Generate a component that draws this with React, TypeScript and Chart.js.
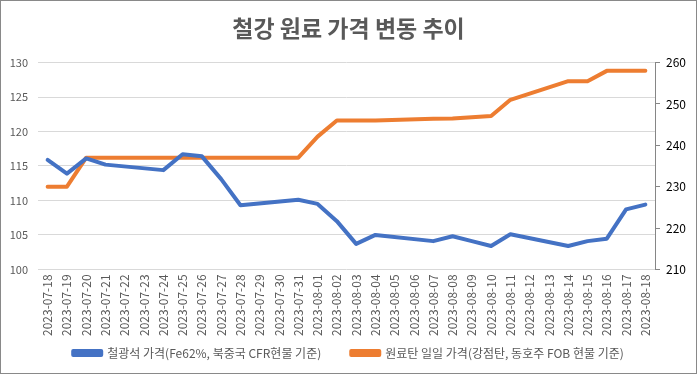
import React, { useEffect, useRef } from "react";
import { Chart, registerables } from "chart.js";

Chart.register(...registerables);

const categories = [
  "2023-07-18", "2023-07-19", "2023-07-20", "2023-07-21", "2023-07-22", "2023-07-23",
  "2023-07-24", "2023-07-25", "2023-07-26", "2023-07-27", "2023-07-28", "2023-07-29",
  "2023-07-30", "2023-07-31", "2023-08-01", "2023-08-02", "2023-08-03", "2023-08-04",
  "2023-08-05", "2023-08-06", "2023-08-07", "2023-08-08", "2023-08-09", "2023-08-10",
  "2023-08-11", "2023-08-12", "2023-08-13", "2023-08-14", "2023-08-15", "2023-08-16",
  "2023-08-17", "2023-08-18",
];

const ironOre = [
  115.9, 113.9, 116.1, 115.2, null, null,
  114.4, 116.7, 116.4, 113.1, 109.3, null,
  null, 110.1, 109.5, 107.0, 103.7, 105.0,
  null, null, 104.1, 104.8, 104.1, 103.4,
  105.1, null, null, 103.4, 104.1, 104.45,
  108.7, 109.4,
];

const coal = [
  230, 230, 237, 237, null, null,
  237, 237, 237, 237, 237, null,
  null, 237, 242.1, 246, 246, 246,
  null, null, 246.4, 246.5, 246.8, 247.1,
  251, null, null, 255.5, 255.5, 258,
  258, 258,
];

const seriesNames = [
  "철광석 가격(Fe62%, 북중국 CFR현물 기준)",
  "원료탄 일일 가격(강점탄, 동호주 FOB 현물 기준)",
];

const titleText = "철강 원료 가격 변동 추이";
const leftTicks = { min: 100, max: 130, step: 5 };
const rightTicks = { min: 210, max: 260, step: 10 };

const FONT = "'Noto Sans CJK KR', 'Noto Sans', sans-serif";
const LEGEND_PAD = 30;
const LEGEND_BOX_H = 28;

const legendFix = {
  id: "legendFix",
  beforeLayout(chart: any) {
    const lg = chart.legend;
    if (!lg || lg._patched) return;
    const orig = lg.fit.bind(lg);
    lg.fit = function () {
      orig();
      this.height = LEGEND_BOX_H;
    };
    lg._patched = true;
  },
  afterLayout(chart: any) {
    const lg = chart.legend;
    if (!lg) return;
    lg.top = lg.top - 24;
    lg.bottom = lg.top + 60;
    lg.height = 60;
  },
};

export default function App() {
  const ref = useRef<HTMLCanvasElement | null>(null);

  useEffect(() => {
    if (!ref.current) return;
    const chart = new Chart(ref.current, {
      type: "line",
      data: {
        labels: categories,
        datasets: [
          {
            label: seriesNames[0],
            data: ironOre,
            borderColor: "#4472C4",
            backgroundColor: "#4472C4",
            borderWidth: 4,
            pointRadius: 0,
            spanGaps: true,
            tension: 0,
            borderCapStyle: "round",
            borderJoinStyle: "round",
            yAxisID: "y",
          },
          {
            label: seriesNames[1],
            data: coal,
            borderColor: "#ED7D31",
            backgroundColor: "#ED7D31",
            borderWidth: 4,
            pointRadius: 0,
            spanGaps: true,
            tension: 0,
            borderCapStyle: "round",
            borderJoinStyle: "round",
            yAxisID: "y1",
          },
        ],
      },
      plugins: [legendFix],
      options: {
        animation: false,
        responsive: false,
        maintainAspectRatio: false,
        layout: { padding: { left: 0, right: 0, top: 0, bottom: 4 } },
        plugins: {
          title: {
            display: true,
            text: titleText,
            color: "#595959",
            font: { family: FONT, size: 23, weight: "bold" },
            padding: { top: 13, bottom: 21 },
          },
          legend: {
            position: "bottom",
            labels: {
              color: "#595959",
              font: { family: FONT, size: 12 },
              boxWidth: 28,
              boxHeight: 4,
              padding: LEGEND_PAD,
            },
          },
          tooltip: { enabled: false },
        },
        scales: {
          x: {
            type: "category",
            offset: true,
            grid: { display: false, drawTicks: false },
            border: { display: false },
            ticks: {
              autoSkip: false,
              maxRotation: 90,
              minRotation: 90,
              color: "#595959",
              font: { family: FONT, size: 12 },
              padding: 5,
            },
          },
          y: {
            position: "left",
            min: leftTicks.min,
            max: leftTicks.max,
            ticks: {
              stepSize: leftTicks.step,
              color: "#595959",
              font: { family: FONT, size: 11 },
              padding: 10,
            },
            grid: { color: "#D9D9D9", drawTicks: false, lineWidth: 1 },
            border: { display: false },
            afterFit: (scale: any) => {
              scale.width = 37;
            },
          },
          y1: {
            position: "right",
            min: rightTicks.min,
            max: rightTicks.max,
            ticks: {
              stepSize: rightTicks.step,
              color: "#000000",
              font: { family: FONT, size: 12 },
              padding: 6,
            },
            grid: { drawOnChartArea: false, drawTicks: true, tickLength: 5, color: "#868686" },
            border: { display: true, color: "#868686" },
            afterFit: (scale: any) => {
              scale.width = 41;
            },
          },
        },
      },
    });
    return () => chart.destroy();
  }, []);

  return (
    <div
      style={{
        position: "absolute",
        left: 0,
        top: 0,
        width: 697,
        height: 374,
        boxSizing: "border-box",
        border: "1px solid #898989",
        background: "#fff",
      }}
    >
      <canvas ref={ref} width={695} height={372} style={{ display: "block" }} />
    </div>
  );
}
